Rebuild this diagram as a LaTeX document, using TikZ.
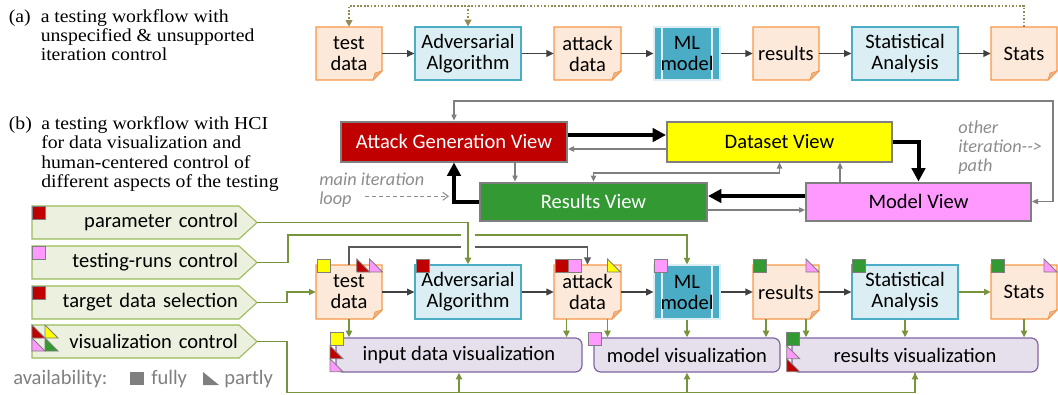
\documentclass[tikz,border=0pt]{standalone}
\usepackage{fontspec}
\setmainfont{Carlito}
\newfontfamily\capfont{Liberation Serif}[FakeStretch=1.08]
\usetikzlibrary{arrows.meta,calc}

\definecolor{docfill}{HTML}{FDE9D9}
\definecolor{docedge}{HTML}{F79646}
\definecolor{foldfill}{HTML}{E8B48C}
\definecolor{algfill}{HTML}{DAEEF3}
\definecolor{algedge}{HTML}{4BACC6}
\definecolor{mlfill}{HTML}{4BACC6}
\definecolor{mlline}{HTML}{DDEFF5}
\definecolor{agvred}{HTML}{C00000}
\definecolor{dvyellow}{HTML}{FFFF00}
\definecolor{rvgreen}{HTML}{339933}
\definecolor{mvpink}{HTML}{FF99FF}
\definecolor{viewedge}{HTML}{7F7F7F}
\definecolor{tagfill}{HTML}{EBF1DE}
\definecolor{tagedge}{HTML}{9BBB59}
\definecolor{ctrl}{HTML}{77933C}
\definecolor{visfill}{HTML}{E6E0EC}
\definecolor{visedge}{HTML}{8064A2}
\definecolor{flow}{HTML}{404040}
\definecolor{linkgray}{HTML}{595959}
\definecolor{dotolive}{HTML}{948A54}
\definecolor{notegray}{HTML}{8C8C8C}

\newcommand\boxfont{\fontsize{15.4pt}{15.75pt}\selectfont}
\newcommand\notefont{\fontsize{13.7pt}{14.25pt}\selectfont\itshape}
\newcommand\capsize{\capfont\fontsize{13.7pt}{14.5pt}\selectfont}

\tikzset{
  % a node spanning the box x1,y1 -- x2,y2 (y counted downwards)
  span/.style n args={4}{at={({(#1+#3)/2},{-(#2+#4)/2})},
    minimum width={(#3-#1)*0.75pt}, minimum height={(#4-#2)*0.75pt}},
  boxtext/.style={inner sep=0pt, align=center, font=\boxfont},
  docshape/.style={fill=docfill, draw=docedge, line width=0.9pt},
  foldshape/.style={fill=foldfill, draw=docedge, line width=0.5pt},
  algbox/.style={boxtext, fill=algfill, draw=algedge, line width=0.9pt},
  mlbox/.style={boxtext, fill=mlfill, draw=mlline, line width=0.8pt,
    path picture={
      \draw[mlline, line width=0.8pt]
        ([xshift=6pt]path picture bounding box.north west) --
        ([xshift=6pt]path picture bounding box.south west);
      \draw[mlline, line width=0.8pt]
        ([xshift=-6pt]path picture bounding box.north east) --
        ([xshift=-6pt]path picture bounding box.south east);}},
  view/.style={boxtext, draw=viewedge, line width=1.5pt},
  tagshape/.style={fill=tagfill, draw=tagedge, line width=0.8pt},
  tagtext/.style={inner sep=0pt, font=\boxfont, text width=140.25pt,
    align=right},
  visbox/.style={boxtext, fill=visfill, draw=visedge, line width=0.9pt,
    rounded corners=5pt},
  marker/.style={draw=viewedge, line width=0.6pt},
  flowarrow/.style={draw=flow, line width=1.1pt,
    -{Triangle[length=5.5pt,width=5pt]}},
  grayarrow/.style={draw=linkgray, line width=1.1pt,
    -{Triangle[length=5.5pt,width=5pt]}},
  ctrlline/.style={draw=ctrl, line width=1.3pt},
  ctrlarrow/.style={ctrlline, -{Triangle[length=5pt,width=4.5pt]}},
  bigarrow/.style={draw=black, line width=3pt,
    -{Triangle[length=10pt,width=10pt]}},
  thinarrow/.style={draw=viewedge, line width=0.9pt,
    -{Triangle[length=4.5pt,width=4pt]}},
  thinboth/.style={draw=viewedge, line width=0.9pt,
    {Triangle[length=4.5pt,width=4pt]}-{Triangle[length=4.5pt,width=4pt]}},
  dotline/.style={draw=dotolive, line width=1.3pt, dash pattern=on 1.3pt off 1.3pt},
  dotarrow/.style={dotline, -{Triangle[length=5pt,width=5pt]}},
  notetext/.style={inner sep=0pt, text=notegray, font=\notefont, align=left},
  captext/.style={inner sep=0pt, font=\capsize},
  legendtext/.style={inner sep=0pt, anchor=base west, text=viewedge, font=\boxfont},
}

% document box with a folded bottom-right corner: name, x1, y1, x2, y2, text
\newcommand\docbox[6]{%
  \filldraw[docshape] (#2,-#3) -- (#4,-#3) -- (#4,{-#5+9}) -- ({#4-9},-#5)
    -- (#2,-#5) -- cycle;
  \filldraw[foldshape] ({#4-9},-#5) -- (#4,{-#5+9}) -- ({#4-7},{-#5+7}) -- cycle;
  \node[boxtext, span={#2}{#3}{#4}{#5}] (#1) {#6};}
% control tag with a pointed right end: name, top y, text
\newcommand\ctrltag[3]{%
  \filldraw[tagshape] (32,-#2) -- (239,-#2) -- (257,{-#2-16.5}) -- (239,{-#2-33})
    -- (32,{-#2-33}) -- cycle;
  \node[tagtext, span={32}{#2}{257}{#2+33}] (#1) {#3};}
% availability markers: full square and partial triangle
\newcommand\sq[3]{\filldraw[marker, fill=#3] (#1,-#2) rectangle ++(13,-13);}
\newcommand\tri[3]{\filldraw[marker, fill=#3] (#1,-#2) -- ++(0,-13) -- ++(13,0) -- cycle;}

\begin{document}
\begin{tikzpicture}[x=0.75pt,y=0.75pt]
\useasboundingbox (0,0) rectangle (1058,-394);

% ---------- (a) plain workflow ----------
\node[captext, anchor=base west] (capa) at (8.6,-22) {(a)};
\node[captext, anchor=base west] (capatext) at (40.5,-22)
  {\begin{tabular}[t]{@{}l@{}}a testing workflow with\\unspecified \& unsupported\\iteration control\end{tabular}};

\docbox{td1}{316}{27}{382}{80}{test\\data}
\node[algbox, span={415}{27}{521}{80}] (adv1) {Adversarial\\Algorithm};
\docbox{ad1}{554}{27}{621}{80}{attack\\data}
\node[mlbox, span={654}{27}{720}{80}] (ml1) {ML\\model};
\docbox{rs1}{753}{27}{819}{80}{results}
\node[algbox, span={852}{27}{958}{80}] (sa1) {Statistical\\Analysis};
\docbox{st1}{991}{27}{1057}{80}{Stats}

\draw[flowarrow] (td1) -- (adv1);
\draw[flowarrow] (adv1) -- (ad1);
\draw[flowarrow] (ad1) -- (ml1);
\draw[flowarrow] (ml1) -- (rs1);
\draw[flowarrow] (rs1) -- (sa1);
\draw[flowarrow] (sa1) -- (st1);

\draw[dotarrow] (st1.north) -- ++(0,21) coordinate (dtop) -| (td1.north);
\draw[dotarrow] (dtop -| adv1.north) -- (adv1.north);

% ---------- (b) workflow with views ----------
\node[captext, anchor=base west] (capb) at (8.6,-129.5) {(b)};
\node[captext, anchor=base west] (capbtext) at (41,-129.5)
  {\begin{tabular}[t]{@{}l@{}}a testing workflow with HCI\\for data visualization and\\human-centered control of\\different aspects of the testing\end{tabular}};

\node[view, fill=agvred, text=white, span={341}{121.5}{567}{161.5}] (agv) {Attack Generation View};
\node[view, fill=dvyellow, span={667}{121.5}{892}{161.5}] (dv) {Dataset View};
\node[view, fill=rvgreen, text=white, span={480}{182.5}{707}{220.5}] (rv) {Results View};
\node[view, fill=mvpink, span={806}{182.5}{1031}{220.5}] (mv) {Model View};

% secondary links between views
\draw[thinarrow] ($(dv.west)+(0,-7.5)$) coordinate (g1) -- (g1 -| agv.east);
\draw[thinarrow] ($(agv.south)+(61,0)$) coordinate (g2) -- (g2 |- rv.north);
\draw[thinboth] (dv.south) -- ++(0,-10.5) -| (rv.north);
\draw[thinarrow] ($(mv.north)+(-78.5,0)$) coordinate (g3) -- (g3 |- dv.south);
\draw[thinarrow] ($(rv.east)+(0,-8.5)$) coordinate (g4) -- (g4 -| mv.west);
\draw[thinboth] (agv.north) -- ++(0,19.5) -| ($(mv.east)+(21,0)$) -- (mv.east);

% main iteration loop
\draw[bigarrow] ($(agv.east)+(0,6.5)$) coordinate (k1) -- (k1 -| dv.west);
\draw[bigarrow] (dv.east) -| (mv.north);
\draw[bigarrow] ($(mv.west)+(0,5.5)$) coordinate (k2) -- (k2 -| rv.east);
\draw[bigarrow] (rv.west) -| (agv.south);

\node[notetext, anchor=base west] (mainloop) at (319,-185.3)
  {\begin{tabular}[t]{@{}l@{}}main iteration\\loop\end{tabular}};
\coordinate (loopfrom) at (365,-196.3);
\coordinate (loopto) at (449,-196.3);
\draw[draw=notegray, line width=0.8pt, dash pattern=on 3pt off 2.2pt,
  -{Straight Barb[length=4pt,width=6pt]}] (loopfrom) -- (loopto);
\node[notetext, anchor=base west] (otherpath) at (958,-133.5)
  {\begin{tabular}[t]{@{}l@{}}other\\iteration-{}->\\path\end{tabular}};

% ---------- controls ----------
\ctrltag{pc}{206}{parameter control}
\ctrltag{tr}{246}{testing-runs control}
\ctrltag{ts}{286}{target data selection}
\ctrltag{vc}{325}{visualization control}

\sq{32}{206}{agvred}
\sq{32}{246}{mvpink}
\sq{32}{286}{agvred}
\tri{32}{325}{agvred}
\tri{45}{325}{dvyellow}
\tri{32}{338}{mvpink}
\tri{45}{338}{rvgreen}

\node[legendtext] (avail) at (13,-384.5) {availability:};
\fill[viewedge] (130,-372) rectangle (144,-385);
\node[legendtext] (fully) at (151,-384.5) {fully};
\fill[viewedge] (203,-372) -- (203,-385) -- (219,-385) -- cycle;
\node[legendtext] (partly) at (224,-384.5) {partly};

% ---------- workflow with HCI ----------
\docbox{td2}{316}{265}{382}{319}{test\\data}
\node[algbox, span={415}{265}{521}{319}] (adv2) {Adversarial\\Algorithm};
\docbox{ad2}{554}{265}{621}{319}{attack\\data}
\node[mlbox, span={654}{265}{720}{319}] (ml2) {ML\\model};
\docbox{rs2}{753}{265}{819}{319}{results}
\node[algbox, span={852}{265}{958}{319}] (sa2) {Statistical\\Analysis};
\docbox{st2}{991}{265}{1057}{319}{Stats}

\node[visbox, span={336}{338}{582}{372}] (iv) {input data visualization};
\node[visbox, span={594}{338}{780}{372}] (mvis) {model visualization};
\node[visbox, span={792}{338}{1038}{372}] (rvis) {results visualization};

\draw[flowarrow] (td2) -- (adv2);
\draw[flowarrow] (adv2) -- (ad2);
\draw[flowarrow] (ad2) -- (ml2);
\draw[flowarrow] (ml2) -- (rs2);
\draw[flowarrow] (rs2) -- (sa2);
\draw[ctrlarrow] (sa2) -- (st2);

\draw[ctrlarrow] (td2.south) -- (td2.south |- iv.north);
\draw[ctrlarrow] ($(ad2.south)+(-21,0)$) coordinate (c1) -- (c1 |- iv.north);
\draw[ctrlarrow] ($(ad2.south)+(20,0)$) coordinate (c2) -- (c2 |- mvis.north);
\draw[ctrlarrow] (ml2.south) -- (ml2.south |- mvis.north);
\draw[ctrlarrow] ($(rs2.south)+(-20,0)$) coordinate (c3) -- (c3 |- mvis.north);
\draw[ctrlarrow] ($(rs2.south)+(20,0)$) coordinate (c4) -- (c4 |- rvis.north);
\draw[ctrlarrow] (sa2.south) -- (sa2.south |- rvis.north);
\draw[ctrlarrow] (st2.south) -- (st2.south |- rvis.north);

% control connectors
\draw[ctrlarrow] (ts.east) -- ++(30,0) |- (td2.west);
\draw[ctrlarrow] (tr.east) -- ++(31,0) |- ($(ml2.north)+(0,29.3)$) -- (ml2.north);
\draw[grayarrow] (td2.north) -- ++(0,17.7) -| (ad2.north);
\draw[white, line width=10.5pt] ($(adv2.north)+(0,36)$) -- ($(adv2.north)+(0,11)$);
\draw[ctrlarrow] (pc.east) -| (adv2.north);
\draw[ctrlline] (vc.east) -- ++(30,0) -- ++(0,-51) coordinate (vcb) -| (rvis.south);
\draw[ctrlarrow] (vcb -| rvis.south) -- (rvis.south);
\draw[ctrlarrow] (vcb -| iv.south) -- (iv.south);
\draw[ctrlarrow] (vcb -| mvis.south) -- (mvis.south);

% availability markers on the workflow steps
\sq{317}{259}{dvyellow}
\tri{356.7}{259}{agvred}
\tri{369.5}{259}{mvpink}
\sq{416}{259}{agvred}
\sq{555}{259}{agvred}
\sq{568}{259}{mvpink}
\tri{607.5}{259}{dvyellow}
\sq{654.3}{259}{mvpink}
\sq{753.3}{259}{rvgreen}
\tri{806}{259}{mvpink}
\sq{852.7}{259}{rvgreen}
\sq{991.7}{259}{rvgreen}
\tri{1044}{259}{mvpink}

\sq{330}{332.7}{dvyellow}
\tri{330}{345.7}{agvred}
\tri{330}{358.7}{mvpink}
\sq{588.3}{332.7}{mvpink}
\sq{786.7}{332.7}{rvgreen}
\tri{786.7}{345.7}{mvpink}
\tri{786.7}{358.7}{agvred}
\end{tikzpicture}
\end{document}
